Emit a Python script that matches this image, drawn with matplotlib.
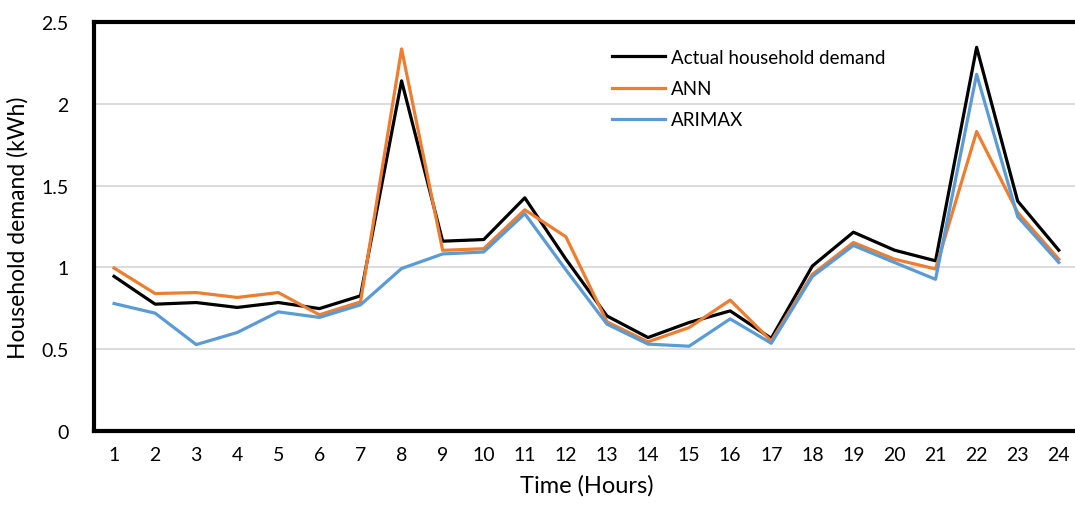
import matplotlib.pyplot as plt

plt.rcParams['font.family'] = ['Lato', 'DejaVu Sans']

hours = list(range(1, 25))

actual = [0.945, 0.775, 0.785, 0.755, 0.785, 0.748, 0.826, 2.14, 1.16, 1.17, 1.425, 1.05,
          0.703, 0.571, 0.663, 0.734, 0.566, 1.008, 1.215, 1.105, 1.04, 2.345, 1.405, 1.105]
ann = [0.996, 0.84, 0.846, 0.816, 0.846, 0.71, 0.789, 2.335, 1.104, 1.114, 1.352, 1.187,
       0.667, 0.545, 0.632, 0.80, 0.55, 0.957, 1.152, 1.05, 0.99, 1.83, 1.335, 1.05]
arimax = [0.779, 0.72, 0.528, 0.602, 0.728, 0.694, 0.771, 0.993, 1.082, 1.094, 1.328, 0.985,
          0.653, 0.531, 0.518, 0.685, 0.536, 0.944, 1.134, 1.03, 0.927, 2.18, 1.31, 1.03]

fig = plt.figure(figsize=(10.75, 5.1), dpi=100)
ax = fig.add_axes([0.087, 0.153, 0.917, 0.802])

ax.plot(hours, actual, color='black', lw=2.3, label='Actual household demand', zorder=3)
ax.plot(hours, ann, color='#ed7d31', lw=2.3, label='ANN', zorder=3)
ax.plot(hours, arimax, color='#5b9bd5', lw=2.3, label='ARIMAX', zorder=3)

ax.set_xlim(0.5, 24.5)
ax.set_ylim(0, 2.5)
ax.set_xticks(hours)
ax.set_yticks([0, 0.5, 1, 1.5, 2, 2.5])
ax.set_yticklabels(['0', '0.5', '1', '1.5', '2', '2.5'])
ax.grid(axis='y', color='#d9d9d9', lw=1.3)
ax.set_axisbelow(True)
ax.tick_params(length=0, labelsize=14)
ax.tick_params(axis='x', pad=11)
ax.tick_params(axis='y', pad=18)
for side in ['left', 'top', 'bottom']:
    ax.spines[side].set_linewidth(3)
ax.spines['right'].set_visible(False)

ax.set_xlabel('Time (Hours)', fontsize=17, labelpad=8)
ax.set_ylabel('Household demand (kWh)', fontsize=16.5, labelpad=9)

ax.legend(loc='upper left', bbox_to_anchor=(0.509, 0.975), frameon=False, fontsize=13.5,
          handlelength=2.8, handletextpad=0.32, labelspacing=0.75)

fig.savefig('out.png', dpi=100)
